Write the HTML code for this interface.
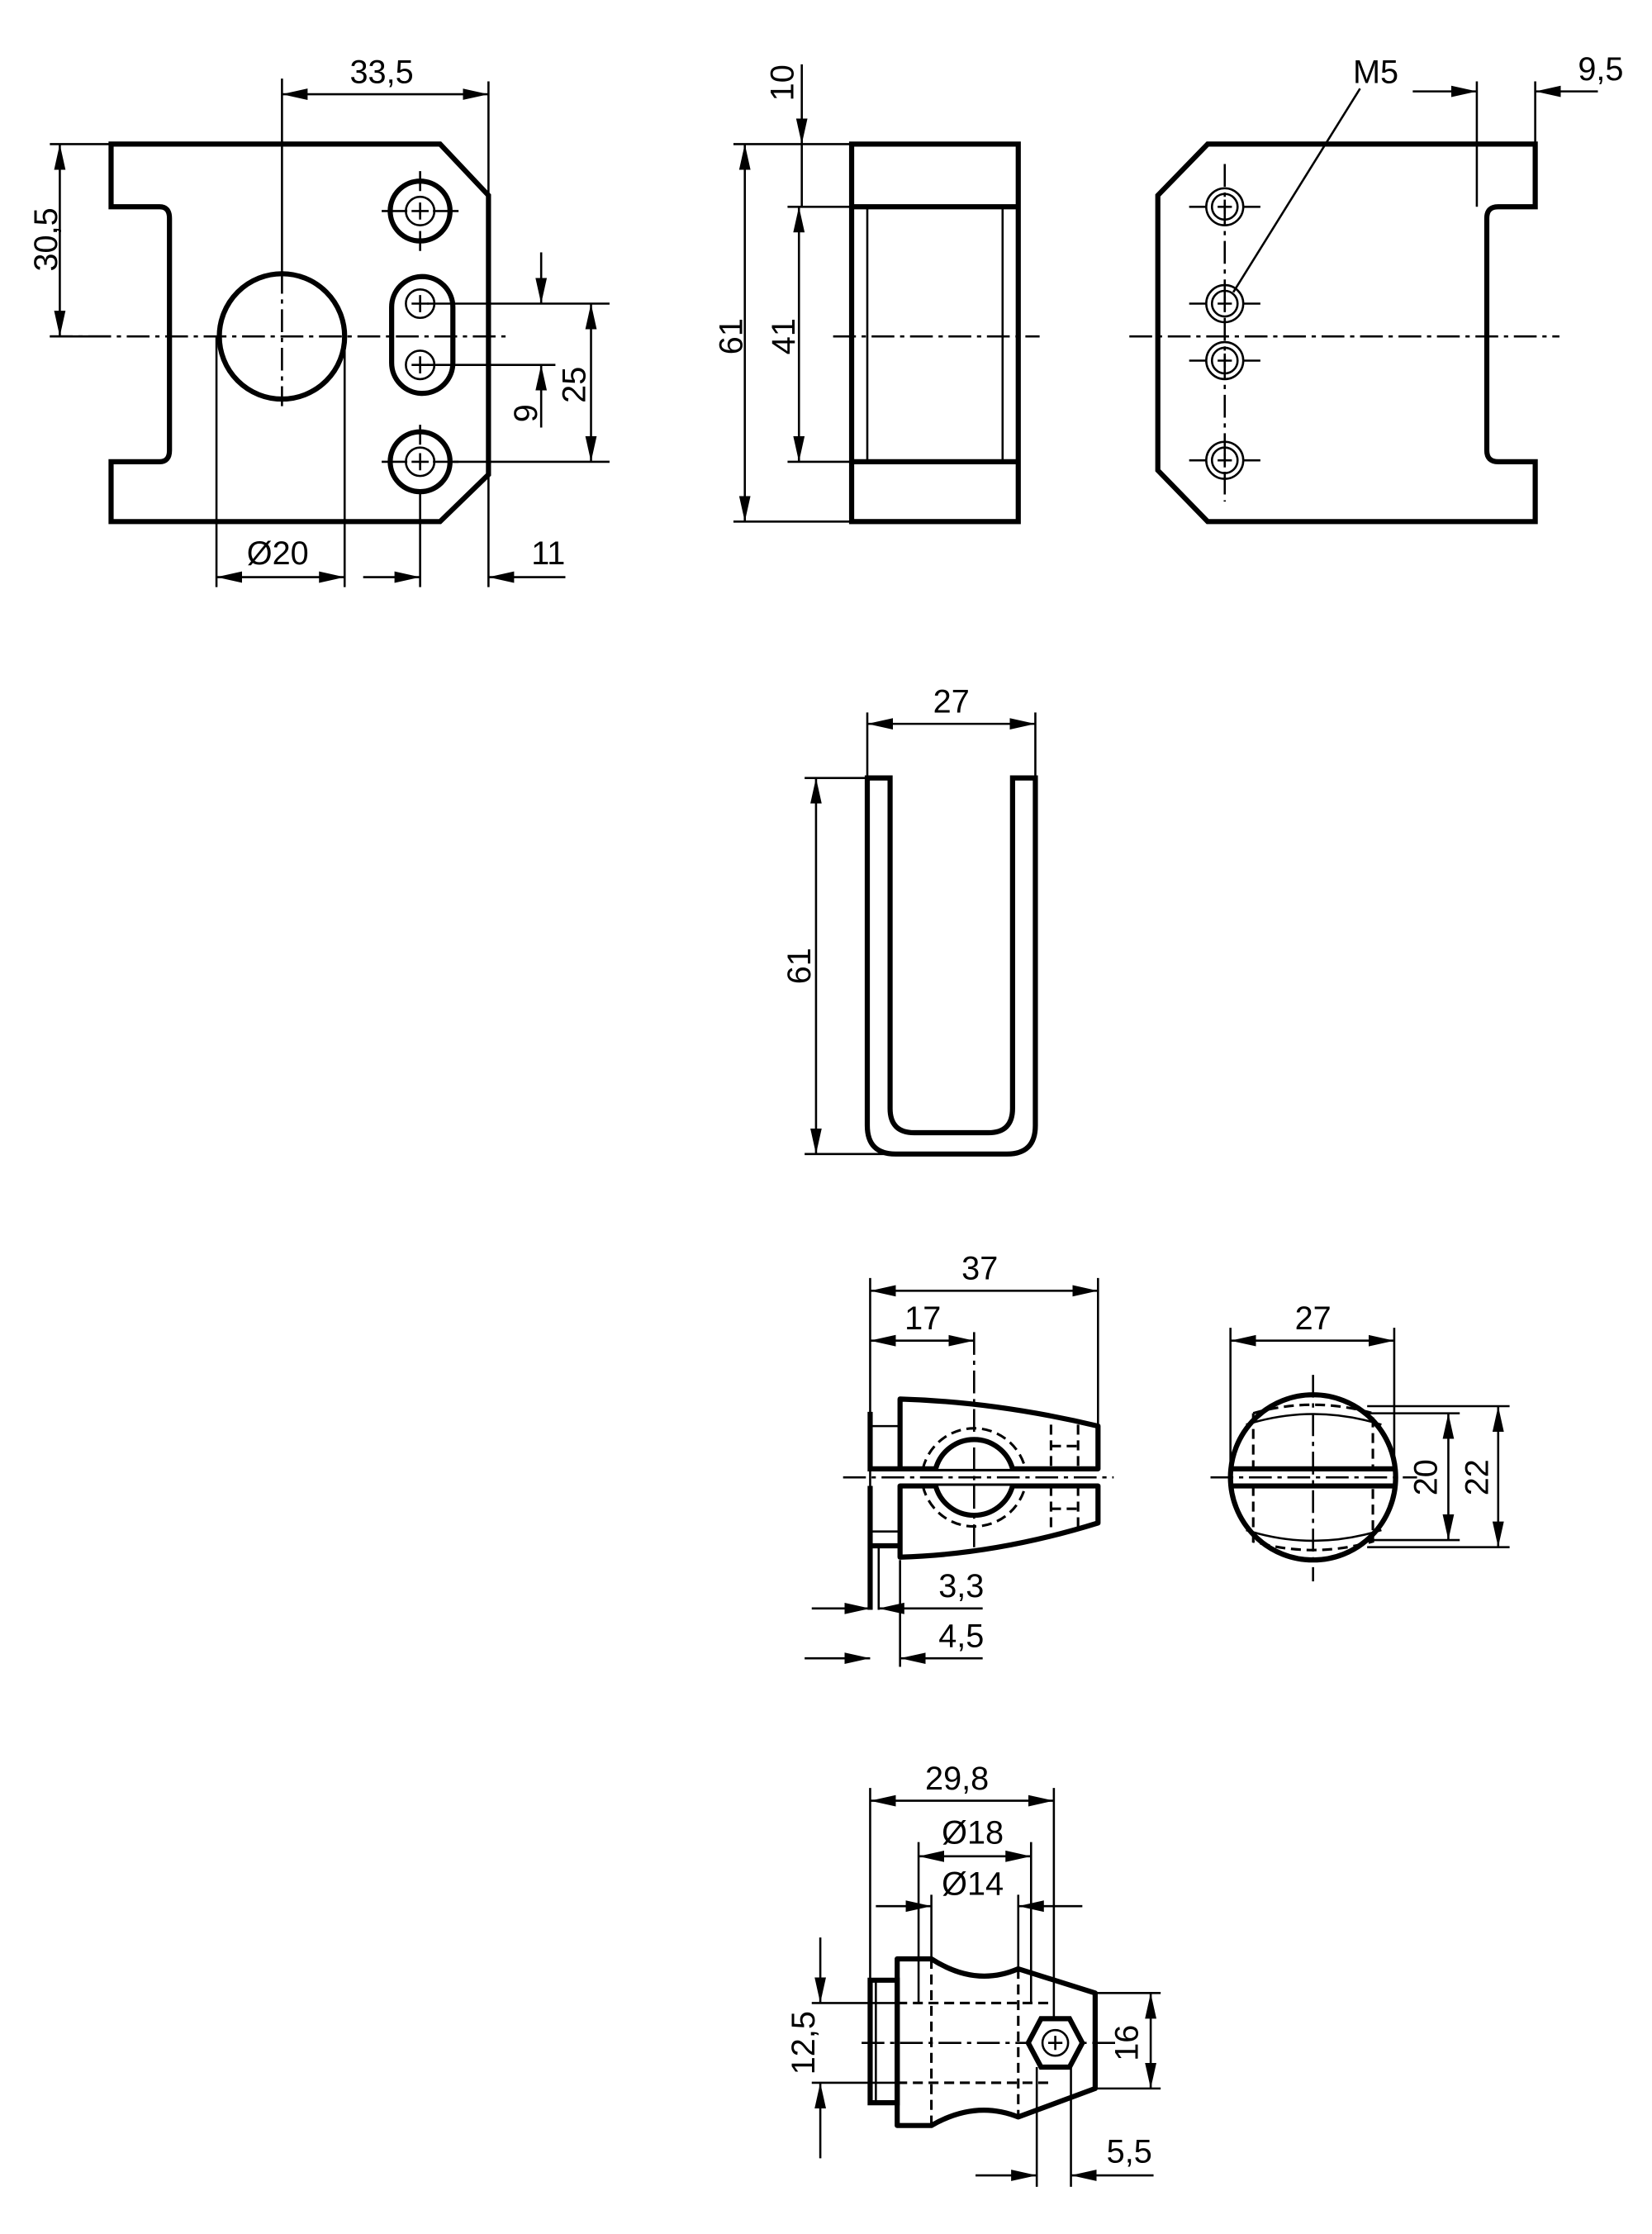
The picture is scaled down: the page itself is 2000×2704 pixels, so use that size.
<!DOCTYPE html>
<html><head><meta charset="utf-8"><style>html,body{margin:0;padding:0;background:#fff}svg{display:block}</style></head><body>
<svg width="2000" height="2704" viewBox="0 0 1160 1568" xmlns="http://www.w3.org/2000/svg" font-family="Liberation Sans, sans-serif" font-size="23" fill="none" stroke="#000">
<defs>
<marker id="a" viewBox="0 -4.5 18 9" refX="18" refY="0" markerWidth="18" markerHeight="9" markerUnits="userSpaceOnUse" orient="auto-start-reverse"><path d="M18,0 L0,-4 L0,4Z" fill="#000" stroke="none"/></marker>
</defs>
<style>
.t{stroke-width:3.6}.n{stroke-width:1.5}.c{stroke-width:1.5;stroke-dasharray:16 4 3 4}.d{stroke-width:1.8;stroke-dasharray:7 4}
.m{stroke-width:1.5;marker-end:url(#a)}.mm{stroke-width:1.5;marker-start:url(#a);marker-end:url(#a)}
text{fill:#000;stroke:none}
</style>

<!-- VIEW 1 -->
<path class="t" d="M78,101 H309 L343,137 V333 L309,366 H78 V324 H112 Q119,324 119,316 V153 Q119,145 112,145 H78 Z"/>
<circle class="t" cx="198" cy="236" r="44"/>
<rect class="t" x="275" y="194" width="43" height="82" rx="21.5"/>
<g class="t"><circle cx="295" cy="148" r="21"/><circle cx="295" cy="324" r="21"/></g>
<g class="n"><circle cx="295" cy="148" r="10"/><circle cx="295" cy="213" r="10"/><circle cx="295" cy="256" r="10"/><circle cx="295" cy="324" r="10"/>
<path d="M289,148h12M295,142v12M289,213h12M295,207v12M289,256h12M295,250v12M289,324h12M295,318v12"/>
<path d="M268,148h18M304,148h18M295,120v14M295,162v14M268,324h18M304,324h18M295,298v14"/></g>
<path class="c" d="M35,236 H355"/><path class="c" d="M198,190 V285"/>
<g class="n"><path d="M198,55V190M343,57V137M35,101H78M35,236H78M300,213H428M300,256H390M318,324H428M152,236V412M242,236V412M295,345V412M343,333V412"/></g>
<path class="mm" d="M198,66H343"/><text x="268" y="58" text-anchor="middle">33,5</text>
<path class="mm" d="M42,101V236"/><text transform="translate(40,168) rotate(-90)" text-anchor="middle">30,5</text>
<path class="m" d="M380,177V213"/><path class="m" d="M380,300V256"/><text transform="translate(377,290) rotate(-90)" text-anchor="middle">9</text>
<path class="mm" d="M415,213V324"/><text transform="translate(411,270) rotate(-90)" text-anchor="middle">25</text>
<path class="mm" d="M152,405H242"/><text x="195" y="396" text-anchor="middle">Ø20</text>
<path class="m" d="M255,405H295"/><path class="m" d="M397,405H343"/><text x="385" y="396" text-anchor="middle">11</text>

<!-- VIEW 2 -->
<rect class="t" x="598" y="101" width="117" height="265"/>
<path class="t" d="M598,145H715M598,324H715"/>
<path class="n" d="M609,145V324M704,145V324"/>
<path class="c" d="M585,236H730"/>
<g class="n"><path d="M515,101H598M515,366H598M553,145H598M553,324H598"/></g>
<path class="mm" d="M523,101V366"/><text transform="translate(521,236) rotate(-90)" text-anchor="middle">61</text>
<path class="mm" d="M561,145V324"/><text transform="translate(558,236) rotate(-90)" text-anchor="middle">41</text>
<path class="m" d="M563,45V101"/><path class="n" d="M563,101V145"/><text transform="translate(557,58) rotate(-90)" text-anchor="middle">10</text>

<!-- VIEW 3 -->
<path class="t" d="M848,101H1078V145H1052Q1044,145 1044,153V316Q1044,324 1052,324H1078V366H848L813,330V137Z"/>
<g class="n"><circle cx="860" cy="145" r="13"/><circle cx="860" cy="145" r="9"/><circle cx="860" cy="213" r="13"/><circle cx="860" cy="213" r="9"/><circle cx="860" cy="253" r="13"/><circle cx="860" cy="253" r="9"/><circle cx="860" cy="323" r="13"/><circle cx="860" cy="323" r="9"/>
<path d="M855,145h10M860,140v10M855,213h10M860,208v10M855,253h10M860,248v10M855,323h10M860,318v10"/>
<path d="M835,145h12M873,145h12M835,213h12M873,213h12M835,253h12M873,253h12M835,323h12M873,323h12"/></g>
<path class="c" d="M860,115V352"/><path class="c" d="M793,236H1095"/>
<path class="n" d="M955,62L866,205"/><text x="966" y="58" text-anchor="middle">M5</text>
<path class="n" d="M1037,57V145M1078,57V101"/>
<path class="m" d="M992,64H1037"/><path class="m" d="M1122,64H1078"/><text x="1124" y="56" text-anchor="middle">9,5</text>

<!-- VIEW 4 -->
<path class="t" d="M609,546V790Q609,810 629,810H707Q727,810 727,790V546H711V778Q711,795 694,795H642Q625,795 625,778V546Z"/>
<path class="n" d="M609,500V546M727,500V546M565,546H609M565,810H628"/>
<path class="mm" d="M609,508H727"/><text x="668" y="500" text-anchor="middle">27</text>
<path class="mm" d="M573,546V810"/><text transform="translate(569,678) rotate(-90)" text-anchor="middle">61</text>

<!-- VIEW 5 -->
<path class="t" d="M632,1031V982Q700,984 771,1001V1031Z M632,1043V1093Q700,1091 771,1069V1043Z" stroke-linejoin="round"/>
<path class="t" d="M611,991V1031H632M611,1043V1085H632M611,1085V1130"/>
<path class="n" d="M617,1085V1130M611,1001H632M611,1075H632"/>
<path class="t" d="M657,1031A28,28 0 0 1 711,1031M657,1043A28,28 0 0 0 711,1043" fill="#fff"/>
<path class="d" d="M648,1031A37,37 0 0 1 720,1031M648,1043A37,37 0 0 0 720,1043"/>
<path class="d" d="M738,1000V1031M757,1000V1031M738,1043V1074M757,1043V1074M738,1015H757M738,1059H757"/>
<path class="c" d="M592,1037H782"/><path class="c" d="M684,935V1088"/>
<path class="n" d="M611,897V1130M771,897V1001"/>
<path class="mm" d="M611,906H771"/><text x="688" y="898" text-anchor="middle">37</text>
<path class="mm" d="M611,941H684"/><text x="648" y="933" text-anchor="middle">17</text>
<path class="m" d="M570,1129H611"/><path class="m" d="M690,1129H617"/><text x="675" y="1121" text-anchor="middle">3,3</text>
<path class="n" d="M632,1095V1170"/>
<path class="m" d="M565,1164H611"/><path class="m" d="M690,1164H632"/><text x="675" y="1156" text-anchor="middle">4,5</text>

<!-- VIEW 6 -->
<circle class="t" cx="922" cy="1037" r="58"/>
<path class="n" d="M875,1000Q922,985 970,1000M875,1074Q922,1089 970,1074"/>
<path class="d" d="M880,992Q922,980 964,992V1031M880,992V1031M880,1043V1082Q922,1094 964,1082V1043"/>
<path class="t" d="M864,1031H980M864,1043H980"/>
<path class="c" d="M850,1037H995"/><path class="c" d="M922,965V1110"/>
<path class="n" d="M864,932V1031M979,932V1031M960,987H1060M960,992H1025M960,1081H1025M960,1086H1060"/>
<path class="mm" d="M864,941H979"/><text x="922" y="933" text-anchor="middle">27</text>
<path class="mm" d="M1017,992V1081"/><text transform="translate(1009,1037) rotate(-90)" text-anchor="middle">20</text>
<path class="mm" d="M1052,987V1086"/><text transform="translate(1045,1037) rotate(-90)" text-anchor="middle">22</text>

<!-- VIEW 7 -->
<path class="t" d="M611,1390H630V1476H611Z"/>
<path class="t" d="M630,1375H654Q685,1395 715,1382L769,1399V1466L715,1486Q685,1474 654,1492H630Z" stroke-linejoin="round"/>
<path class="n" d="M615,1390V1476"/>
<path class="d" d="M630,1406H740M630,1462H740M654,1375V1492M715,1382V1486"/>
<path class="c" d="M605,1434H785"/>
<path class="t" d="M731,1417H751L760,1434L751,1451H731L722,1434Z" fill="#fff"/>
<circle class="n" cx="741" cy="1434" r="9"/><path class="n" d="M736,1434h10M741,1429v10"/>
<path class="n" d="M611,1255V1390M740,1255V1417M645,1293V1406M724,1293V1406M654,1330V1375M715,1330V1382"/>
<path class="mm" d="M611,1264H740"/><text x="672" y="1256" text-anchor="middle">29,8</text>
<path class="mm" d="M645,1303H724"/><text x="683" y="1294" text-anchor="middle">Ø18</text>
<path class="m" d="M615,1338H654"/><path class="m" d="M760,1338H715"/><text x="683" y="1330" text-anchor="middle">Ø14</text>
<path class="n" d="M570,1406H630M570,1462H630"/>
<path class="m" d="M576,1360V1406"/><path class="m" d="M576,1515V1462"/><text transform="translate(572,1434) rotate(-90)" text-anchor="middle">12,5</text>
<path class="n" d="M769,1399H815M769,1466H815"/>
<path class="mm" d="M808,1399V1466"/><text transform="translate(799,1434) rotate(-90)" text-anchor="middle">16</text>
<path class="n" d="M728,1451V1535M752,1451V1535"/>
<path class="m" d="M685,1527H728"/><path class="m" d="M810,1527H752"/><text x="793" y="1518" text-anchor="middle">5,5</text>
</svg>
</body></html>
